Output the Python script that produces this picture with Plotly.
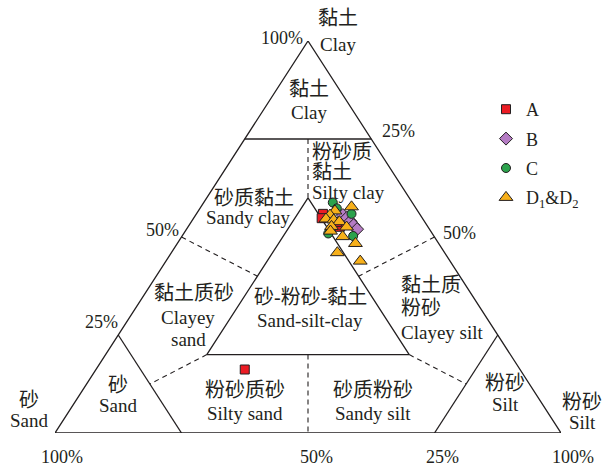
import plotly.graph_objects as go

# ---------------- data (percent: clay, sand, silt) ----------------
A_clay = [55.9, 54.8, 52.6, 53.8, 16.2]
A_sand = [19.1, 19.9, 17.4, 17.4, 54.4]
A_silt = [25.0, 25.3, 30.0, 28.8, 29.4]

B_clay = [55.6, 54.9, 54.0, 53.0, 52.0]
B_sand = [15.3, 14.85, 14.6, 14.5, 14.3]
B_silt = [29.1, 30.25, 31.4, 32.5, 33.7]

C_clay = [58.8, 57.3, 55.9, 50.9, 50.25]
C_sand = [15.7, 15.65, 13.45, 20.55, 15.95]
C_silt = [25.5, 27.05, 30.65, 28.55, 33.8]

D_clay = [57.7, 56.65, 55.6, 54.6, 54.35, 53.9, 52.7, 52.55, 51.5, 50.1, 48.35, 46.0, 43.85]
D_sand = [12.55, 16.35, 17.85, 19.15, 17.75, 16.85, 19.0, 16.1, 19.8, 18.1, 16.45, 21.2, 17.75]
D_silt = [29.75, 27.0, 26.55, 26.25, 27.9, 29.25, 28.3, 31.35, 28.7, 31.8, 35.2, 32.8, 38.4]

series_names = ["A", "B", "C", "D<sub>1</sub>&D<sub>2</sub>"]

# ---------------- helpers ----------------
W, H = 605, 469
ML, MR, MT, MB = 55, 44, 41, 36
PW, PH = W - ML - MR, H - MT - MB


def txy(clay, sand, silt):
    xs, ys = [], []
    for c, s, t in zip(clay, sand, silt):
        tot = c + s + t
        xs.append((t + c / 2.0) / tot * 100.0)
        ys.append(c / tot * 100.0)
    return xs, ys


def ppos(xp, yp):
    """pixel position -> paper units (for text placement only)"""
    return (xp - ML) / PW, 1.0 - (yp - MT) / PH


FONT = "Liberation Serif, Noto Sans CJK SC, serif"
TXT = "#231f20"
LINE = "#231f20"

fig = go.Figure()

# ---------------- classification boundaries (clay, sand, silt) ----------------
solid = [
    [(0, 100, 0), (0, 0, 100), (100, 0, 0), (0, 100, 0)],
    [(75, 25, 0), (75, 0, 25)],
    [(25, 75, 0), (0, 75, 25)],
    [(25, 0, 75), (0, 25, 75)],
    [(60, 20, 20), (20, 60, 20), (20, 20, 60), (60, 20, 20)],
]
dashed = [
    [(75, 12.5, 12.5), (60, 20, 20)],
    [(20, 40, 40), (0, 50, 50)],
    [(50, 50, 0), (40, 40, 20)],
    [(50, 0, 50), (40, 20, 40)],
    [(20, 60, 20), (12.5, 75, 12.5)],
    [(20, 20, 60), (12.5, 12.5, 75)],
]
for seg in solid:
    xs, ys = txy([p[0] for p in seg], [p[1] for p in seg], [p[2] for p in seg])
    fig.add_trace(go.Scatter(x=xs, y=ys, mode="lines", line=dict(color=LINE, width=1.3),
                             showlegend=False, hoverinfo="skip", cliponaxis=False))
for seg in dashed:
    xs, ys = txy([p[0] for p in seg], [p[1] for p in seg], [p[2] for p in seg])
    fig.add_trace(go.Scatter(x=xs, y=ys, mode="lines",
                             line=dict(color=LINE, width=1.1, dash="5px,4px"),
                             showlegend=False, hoverinfo="skip", cliponaxis=False))

# ---------------- data markers ----------------
styles = [
    dict(symbol="square", color="#ec1c24", size=9),
    dict(symbol="diamond", color="#b57cc4", size=10),
    dict(symbol="circle", color="#2ba24c", size=9),
    dict(symbol="triangle-up", color="#f7b01a", size=12),
]
all_data = [(A_clay, A_sand, A_silt), (B_clay, B_sand, B_silt),
            (C_clay, C_sand, C_silt), (D_clay, D_sand, D_silt)]
for i, ((c, s, t), st, nm) in enumerate(zip(all_data, styles, series_names)):
    xs, ys = txy(c, s, t)
    fig.add_trace(go.Scatter(
        x=xs, y=ys, mode="markers", name=nm, legendgroup=str(i),
        marker=dict(symbol=st["symbol"], color=st["color"], size=st["size"],
                    line=dict(color="#231f20", width=1)),
        cliponaxis=False))

# ---------------- labels ----------------
labels = [
    ("黏土", 338, 18, 20, "center"), ("Clay", 338, 44, 19, "center"),
    ("100%", 282, 38, 18, "center"),
    ("黏土", 309, 89, 20, "center"), ("Clay", 309, 112, 19, "center"),
    ("25%", 398, 131, 18, "center"),
    ("粉砂质", 310, 152, 20, "left"), ("黏土", 310, 172, 20, "left"),
    ("Silty clay", 310, 192, 19, "left"),
    ("砂质黏土", 254, 198, 20, "center"), ("Sandy clay", 248, 218, 19, "center"),
    ("50%", 162, 230, 18, "center"),
    ("50%", 459, 233, 18, "center"),
    ("黏土质砂", 194, 293, 20, "center"), ("Clayey", 188, 317, 19, "center"),
    ("sand", 188, 339, 19, "center"),
    ("25%", 101, 322, 18, "center"),
    ("砂-粉砂-黏土", 310, 297, 20, "center"), ("Sand-silt-clay", 310, 320, 19, "center"),
    ("黏土质", 399, 285, 20, "left"), ("粉砂", 399, 308, 20, "left"),
    ("Clayey silt", 399, 332, 19, "left"),
    ("砂", 118, 385, 20, "center"), ("Sand", 118, 405, 19, "center"),
    ("粉砂质砂", 245, 390, 20, "center"), ("Silty sand", 245, 413, 19, "center"),
    ("砂质粉砂", 373, 390, 20, "center"), ("Sandy silt", 373, 413, 19, "center"),
    ("粉砂", 505, 383, 20, "center"), ("Silt", 505, 404, 19, "center"),
    ("砂", 29, 400, 20, "center"), ("Sand", 29, 420, 19, "center"),
    ("粉砂", 582, 402, 20, "center"), ("Silt", 582, 422, 19, "center"),
    ("100%", 62, 457, 18, "center"), ("50%", 316, 457, 18, "center"),
    ("25%", 442, 457, 18, "center"), ("100%", 573, 457, 18, "center"),
]
anns = []
for text, xp, yp, sz, al in labels:
    xa, ya = ppos(xp, yp)
    anns.append(dict(x=xa, y=ya, xref="paper", yref="paper", text=text, showarrow=False,
                     xanchor="left" if al == "left" else "center", yanchor="middle",
                     font=dict(family=FONT, size=sz, color=TXT)))

fig.update_layout(
    width=W, height=H,
    margin=dict(l=ML, r=MR, t=MT, b=MB, pad=0),
    paper_bgcolor="white", plot_bgcolor="white",
    xaxis=dict(range=[0, 100], visible=False, fixedrange=True),
    yaxis=dict(range=[0, 100], visible=False, fixedrange=True),
    annotations=anns,
    showlegend=True,
    legend=dict(x=(486 - ML) / PW, y=1 - (91 - MT) / PH, xanchor="left", yanchor="top",
                font=dict(family=FONT, size=18, color=TXT), tracegroupgap=3,
                bgcolor="rgba(0,0,0,0)", itemwidth=30),
    font=dict(family=FONT, color=TXT),
)

fig.write_html("out.html")
